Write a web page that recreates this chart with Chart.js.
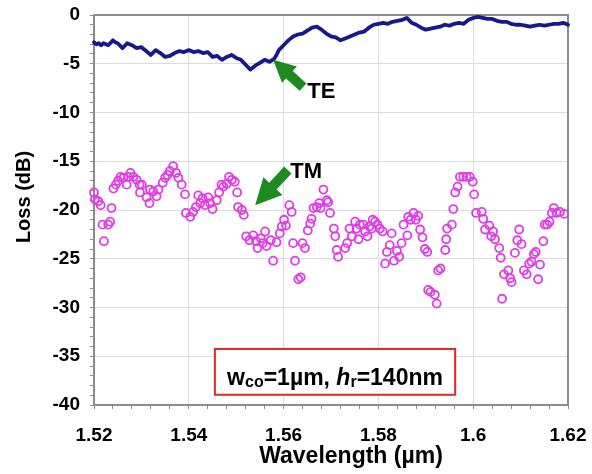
<!DOCTYPE html>
<html>
<head>
<meta charset="utf-8">
<script src="https://cdn.jsdelivr.net/npm/chart.js@4.4.1/dist/chart.umd.min.js"></script>
<style>
    html, body { margin: 0; padding: 0; background: #fff; }
    #wrap { width: 592px; height: 474px; }
</style>
</head>
<body>
<div id="wrap"><canvas id="lossChart" width="592" height="474"></canvas></div>
<script>
// Axis ticks
const xMajorTicks = [1.52, 1.54, 1.56, 1.58, 1.60, 1.62];
const xTickLabels = ['1.52', '1.54', '1.56', '1.58', '1.6', '1.62'];
const yMajorTicks = [0, -5, -10, -15, -20, -25, -30, -35, -40];
const yTickLabels = ['0', '-5', '-10', '-15', '-20', '-25', '-30', '-35', '-40'];
const xMinorStep = 0.004;
const yMinorStep = 1;

// TE mode (solid line)
const teWavelength = [
    1.520, 1.5205, 1.521, 1.5215, 1.522, 1.523, 1.524, 1.5245, 1.525, 1.526, 1.527, 1.528, 1.529, 1.530,
    1.531, 1.532, 1.533, 1.534, 1.535, 1.536, 1.537, 1.538, 1.539, 1.540, 1.541, 1.542, 1.543, 1.544,
    1.545, 1.546, 1.547, 1.548, 1.549, 1.550, 1.551, 1.552, 1.553, 1.554, 1.555, 1.556, 1.557, 1.558,
    1.5585, 1.559, 1.560, 1.561, 1.562, 1.563, 1.564, 1.565, 1.566, 1.567, 1.568, 1.569, 1.570, 1.571,
    1.572, 1.573, 1.574, 1.575, 1.576, 1.577, 1.578, 1.579, 1.580, 1.581, 1.582, 1.583, 1.584, 1.585,
    1.586, 1.587, 1.588, 1.589, 1.590, 1.591, 1.592, 1.593, 1.594, 1.595, 1.596, 1.597, 1.598, 1.599,
    1.600, 1.601, 1.602, 1.603, 1.604, 1.605, 1.606, 1.607, 1.608, 1.609, 1.610, 1.611, 1.612, 1.613,
    1.614, 1.615, 1.616, 1.617, 1.618, 1.619, 1.620
];
const teLoss = [
    -2.8, -3.0, -2.9, -3.1, -2.9, -3.1, -2.6, -2.8, -2.9, -3.4, -2.9, -3.1, -3.4, -3.3,
    -3.7, -4.1, -3.6, -3.9, -4.3, -4.2, -3.9, -3.7, -3.8, -3.6, -3.8, -3.7, -3.9, -3.8,
    -4.3, -4.2, -4.6, -4.3, -4.1, -4.4, -4.6, -5.1, -5.6, -5.2, -4.9, -4.6, -4.8, -4.5,
    -4.1, -3.6, -3.1, -2.6, -2.2, -2.0, -1.9, -1.6, -1.3, -1.2, -1.5, -1.9, -2.2, -2.3,
    -2.6, -2.4, -2.2, -2.0, -1.8, -1.7, -1.3, -1.0, -0.9, -0.8, -0.9, -0.7, -0.6, -0.5,
    -0.3, -0.8, -1.0, -1.3, -1.5, -1.4, -1.3, -1.2, -1.0, -1.1, -0.9, -0.8, -0.9, -0.5,
    -0.3, -0.2, -0.3, -0.4, -0.4, -0.6, -0.7, -0.7, -0.9, -1.0, -1.0, -1.1, -1.2, -1.1,
    -1.0, -1.1, -1.0, -0.9, -0.9, -0.8, -1.0
];

// TM mode (open circles)
const tmWavelength = [
    1.5200, 1.5202, 1.5209, 1.5214, 1.5218, 1.5221, 1.5230, 1.5234, 1.5237, 1.5241, 1.5246, 1.5251,
    1.5256, 1.5262, 1.5269, 1.5272, 1.5277, 1.5283, 1.5290, 1.5296, 1.5297, 1.5301, 1.5311, 1.5317,
    1.5318, 1.5325, 1.5332, 1.5336, 1.5345, 1.5350, 1.5355, 1.5360, 1.5367, 1.5373, 1.5378, 1.5385,
    1.5392, 1.5394, 1.5403, 1.5409, 1.5415, 1.5420, 1.5424, 1.5429, 1.5434, 1.5441, 1.5445, 1.5450,
    1.5459, 1.5464, 1.5469, 1.5473, 1.5480, 1.5485, 1.5491, 1.5497, 1.5502, 1.5504, 1.5512, 1.5516,
    1.5521, 1.5528, 1.5536, 1.5542, 1.5545, 1.5552, 1.5556, 1.5561, 1.5564, 1.5573, 1.5578, 1.5585,
    1.5592, 1.5596, 1.5601, 1.5605, 1.5612, 1.5617, 1.5620, 1.5624, 1.5631, 1.5636, 1.5640, 1.5645,
    1.5651, 1.5656, 1.5659, 1.5663, 1.5670, 1.5675, 1.5678, 1.5684, 1.5691, 1.5694, 1.5698, 1.5706,
    1.5709, 1.5712, 1.5715, 1.5730, 1.5734, 1.5739, 1.5744, 1.5751, 1.5754, 1.5758, 1.5761, 1.5768,
    1.5772, 1.5777, 1.5781, 1.5786, 1.5788, 1.5793, 1.5798, 1.5803, 1.5809, 1.5814, 1.5818, 1.5824,
    1.5828, 1.5833, 1.5839, 1.5844, 1.5849, 1.5853, 1.5861, 1.5863, 1.5868, 1.5874, 1.5879, 1.5884,
    1.5888, 1.5893, 1.5898, 1.5903, 1.5905, 1.5910, 1.5919, 1.5923, 1.5926, 1.5931, 1.5941, 1.5943,
    1.5945, 1.5955, 1.5958, 1.5962, 1.5967, 1.5972, 1.5979, 1.5986, 1.5993, 1.5999, 1.6002, 1.6006,
    1.6018, 1.6021, 1.6025, 1.6034, 1.6038, 1.6042, 1.6046, 1.6055, 1.6058, 1.6061, 1.6065, 1.6074,
    1.6078, 1.6081, 1.6088, 1.6093, 1.6097, 1.6102, 1.6107, 1.6113, 1.6118, 1.6123, 1.6128, 1.6132,
    1.6137, 1.6141, 1.6148, 1.6151, 1.6156, 1.6161, 1.6166, 1.6170, 1.6176, 1.6183, 1.6192
];
const tmLoss = [
    -18.2, -18.9, -19.1, -19.5, -21.5, -23.2, -21.5, -21.2, -19.8, -17.8, -17.4, -17.0,
    -16.6, -16.7, -17.4, -16.6, -16.2, -16.6, -16.9, -17.4, -18.2, -17.4, -18.7, -19.3,
    -17.9, -18.1, -18.6, -17.9, -17.2, -16.7, -16.4, -16.0, -15.5, -16.2, -16.7, -17.4,
    -18.4, -20.3, -20.7, -20.2, -19.7, -18.5, -19.3, -18.8, -19.5, -18.7, -19.3, -19.9,
    -19.0, -18.2, -17.4, -17.6, -17.3, -16.6, -16.9, -17.1, -18.2, -19.7, -20.0, -20.5,
    -22.7, -23.1, -22.6, -23.2, -23.9, -22.9, -23.4, -22.2, -23.7, -23.1, -25.2, -23.3,
    -22.4, -21.7, -21.0, -21.6, -19.5, -20.2, -23.4, -25.2, -27.1, -26.9, -23.4, -23.9,
    -22.1, -21.4, -20.9, -19.8, -19.7, -19.3, -19.8, -17.9, -19.0, -19.2, -20.3, -21.9,
    -22.7, -24.1, -24.8, -23.9, -23.4, -21.9, -22.7, -21.2, -21.9, -23.0, -21.5, -21.5,
    -22.2, -22.7, -21.7, -21.9, -21.0, -21.2, -21.5, -21.9, -22.2, -25.5, -24.3, -23.6,
    -22.4, -25.2, -24.2, -24.8, -23.4, -21.5, -22.6, -20.7, -21.0, -20.3, -21.0, -20.6,
    -22.0, -22.8, -24.0, -24.3, -28.2, -28.4, -28.7, -29.6, -26.2, -26.0, -24.1, -23.0,
    -21.9, -21.5, -19.9, -18.2, -17.6, -16.6, -16.6, -16.6, -16.6, -17.1, -18.4, -20.3,
    -20.2, -20.9, -22.0, -21.6, -22.7, -22.2, -23.0, -23.9, -24.9, -29.1, -26.6, -26.2,
    -27.0, -27.4, -24.4, -23.1, -22.0, -23.5, -26.2, -26.6, -25.5, -25.3, -24.5, -24.3,
    -27.1, -25.6, -23.2, -21.5, -21.5, -21.2, -20.3, -19.8, -20.3, -20.2, -20.4
];

// Annotations, in data units
const teArrow = { tail: [1.5641, -7.4], tip: [1.5578, -4.6], label: 'TE', at: [1.5650, -7.9] };
const tmArrow = { tail: [1.5609, -15.9], tip: [1.5540, -19.5], label: 'TM', at: [1.5614, -16.1] };
const noteBox = { x1: 1.5455, x2: 1.5962, y1: -34.25, y2: -38.95 };

const FONT = "'Liberation Sans', Arial, Helvetica, sans-serif";
const GREEN = '#1f8a1f';

function isMajor(list, v) {
    return list.findIndex(m => Math.abs(m - v) < 1e-6);
}

function buildTicks(min, max, step, majors) {
    const ticks = [];
    const n = Math.round((max - min) / step);
    for (let k = 0; k <= n; k++) {
        const v = +(min + k * step).toFixed(4);
        ticks.push({ value: v, isMajor: isMajor(majors, v) >= 0 });
    }
    return ticks;
}

function drawArrow(ctx, x1, y1, x2, y2, shaftW, headW, headL) {
    const len = Math.hypot(x2 - x1, y2 - y1);
    ctx.save();
    ctx.translate(x1, y1);
    ctx.rotate(Math.atan2(y2 - y1, x2 - x1));
    ctx.beginPath();
    ctx.moveTo(0, -shaftW / 2);
    ctx.lineTo(len - headL, -shaftW / 2);
    ctx.lineTo(len - headL, -headW / 2);
    ctx.lineTo(len, 0);
    ctx.lineTo(len - headL, headW / 2);
    ctx.lineTo(len - headL, shaftW / 2);
    ctx.lineTo(0, shaftW / 2);
    ctx.closePath();
    ctx.fillStyle = GREEN;
    ctx.fill();
    ctx.restore();
}

const framePlugin = {
    id: 'frame',
    beforeDatasetsDraw(chart) {
        const { ctx, chartArea: a } = chart;
        ctx.save();
        ctx.strokeStyle = '#8c8c8c';
        ctx.lineWidth = 2;
        ctx.strokeRect(a.left, a.top, a.right - a.left, a.bottom - a.top);
        ctx.restore();
    }
};

const notesPlugin = {
    id: 'notes',
    afterDatasetsDraw(chart) {
        const { ctx } = chart;
        const sx = chart.scales.x, sy = chart.scales.y;
        const px = v => sx.getPixelForValue(v);
        const py = v => sy.getPixelForValue(v);

        [[teArrow, 22, 10], [tmArrow, 26, 10]].forEach(([a, head, shaft]) => {
            drawArrow(ctx, px(a.tail[0]), py(a.tail[1]), px(a.tip[0]), py(a.tip[1]), shaft, head, head);
            ctx.save();
            ctx.fillStyle = '#000';
            ctx.font = 'bold 22px ' + FONT;
            ctx.textAlign = 'left';
            ctx.textBaseline = 'middle';
            ctx.fillText(a.label, px(a.at[0]), py(a.at[1]));
            ctx.restore();
        });

        // parameter box
        const bx1 = px(noteBox.x1), bx2 = px(noteBox.x2);
        const by1 = py(noteBox.y1), by2 = py(noteBox.y2);
        ctx.save();
        ctx.fillStyle = '#fff';
        ctx.fillRect(bx1, by1, bx2 - bx1, by2 - by1);
        ctx.strokeStyle = '#e02626';
        ctx.lineWidth = 2;
        ctx.strokeRect(bx1, by1, bx2 - bx1, by2 - by1);

        const parts = [
            { t: 'w', f: 'bold 23px ' + FONT, dy: 0 },
            { t: 'co', f: 'bold 16px ' + FONT, dy: 2 },
            { t: '=1\u00b5m, ', f: 'bold 23px ' + FONT, dy: 0 },
            { t: 'h', f: 'italic bold 23px ' + FONT, dy: 0 },
            { t: 'r', f: 'bold 16px ' + FONT, dy: 2 },
            { t: '=140nm', f: 'bold 23px ' + FONT, dy: 0 }
        ];
        let total = 0;
        parts.forEach(p => { ctx.font = p.f; p.w = ctx.measureText(p.t).width; total += p.w; });
        let x = (bx1 + bx2) / 2 - total / 2;
        const base = (by1 + by2) / 2 + 13;
        ctx.fillStyle = '#000';
        ctx.textBaseline = 'alphabetic';
        ctx.textAlign = 'left';
        parts.forEach(p => {
            ctx.font = p.f;
            ctx.fillText(p.t, x, base + p.dy);
            x += p.w;
        });
        ctx.restore();
    }
};

const titlesPlugin = {
    id: 'titles',
    afterDraw(chart) {
        const { ctx, chartArea: a } = chart;
        ctx.save();
        ctx.fillStyle = '#000';
        ctx.textAlign = 'center';
        ctx.textBaseline = 'middle';
        ctx.font = 'bold 23px ' + FONT;
        ctx.fillText('Wavelength (\u00b5m)', (a.left + a.right) / 2 + 20, a.bottom + 52);
        ctx.translate(24, (a.top + a.bottom) / 2 - 13);
        ctx.rotate(-Math.PI / 2);
        ctx.font = 'bold 20px ' + FONT;
        ctx.fillText('Loss (dB)', 0, 0);
        ctx.restore();
    }
};

const teData = teWavelength.map((w, i) => ({ x: w, y: teLoss[i] }));
const tmData = tmWavelength.map((w, i) => ({ x: w, y: tmLoss[i] }));

const ctx = document.getElementById('lossChart').getContext('2d');
const chart = new Chart(ctx, {
    type: 'line',
    data: {
        datasets: [
            {
                label: 'TE',
                data: teData,
                borderColor: '#17198a',
                borderWidth: 3.8,
                pointRadius: 0,
                borderJoinStyle: 'round',
                borderCapStyle: 'round',
                tension: 0,
                clip: false
            },
            {
                label: 'TM',
                data: tmData,
                showLine: false,
                pointStyle: 'circle',
                pointRadius: 4,
                pointBorderWidth: 1.8,
                pointBorderColor: '#e03ce6',
                pointBackgroundColor: 'rgba(255,255,255,0)',
                clip: false
            }
        ]
    },
    options: {
        responsive: false,
        animation: false,
        devicePixelRatio: 1,
        layout: { padding: { top: 15, right: 24, left: 0, bottom: 0 } },
        plugins: {
            legend: { display: false },
            tooltip: { enabled: false }
        },
        scales: {
            x: {
                type: 'linear',
                min: 1.52,
                max: 1.62,
                afterBuildTicks: scale => { scale.ticks = buildTicks(1.52, 1.62, xMinorStep, xMajorTicks); },
                afterFit: scale => {
                    scale.height = 69;
                    scale.paddingLeft = 0;
                    scale.paddingRight = 0;
                },
                ticks: {
                    autoSkip: false,
                    maxRotation: 0,
                    minRotation: 0,
                    padding: 15,
                    color: '#000',
                    font: { family: FONT, size: 19, weight: 'bold' },
                    callback: value => {
                        const i = isMajor(xMajorTicks, value);
                        return i >= 0 ? xTickLabels[i] : '';
                    }
                },
                grid: {
                    color: c => (c.tick && c.tick.isMajor ? '#dcdcdc' : 'rgba(0,0,0,0)'),
                    lineWidth: 1,
                    tickLength: 4,
                    tickColor: '#8c8c8c'
                },
                border: { color: '#8c8c8c', width: 2 }
            },
            y: {
                type: 'linear',
                min: -40,
                max: 0,
                afterBuildTicks: scale => { scale.ticks = buildTicks(-40, 0, yMinorStep, yMajorTicks); },
                afterFit: scale => {
                    scale.width = 94;
                    scale.paddingTop = 0;
                    scale.paddingBottom = 0;
                },
                ticks: {
                    autoSkip: false,
                    padding: 10,
                    color: '#000',
                    font: { family: FONT, size: 19, weight: 'bold' },
                    callback: value => {
                        const i = isMajor(yMajorTicks, value);
                        return i >= 0 ? yTickLabels[i] : '';
                    }
                },
                grid: {
                    color: c => (c.tick && c.tick.isMajor ? '#dcdcdc' : 'rgba(0,0,0,0)'),
                    lineWidth: 1,
                    tickLength: 4,
                    tickColor: '#8c8c8c'
                },
                border: { color: '#8c8c8c', width: 2 }
            }
        }
    },
    plugins: [framePlugin, notesPlugin, titlesPlugin]
});
</script>
</body>
</html>
